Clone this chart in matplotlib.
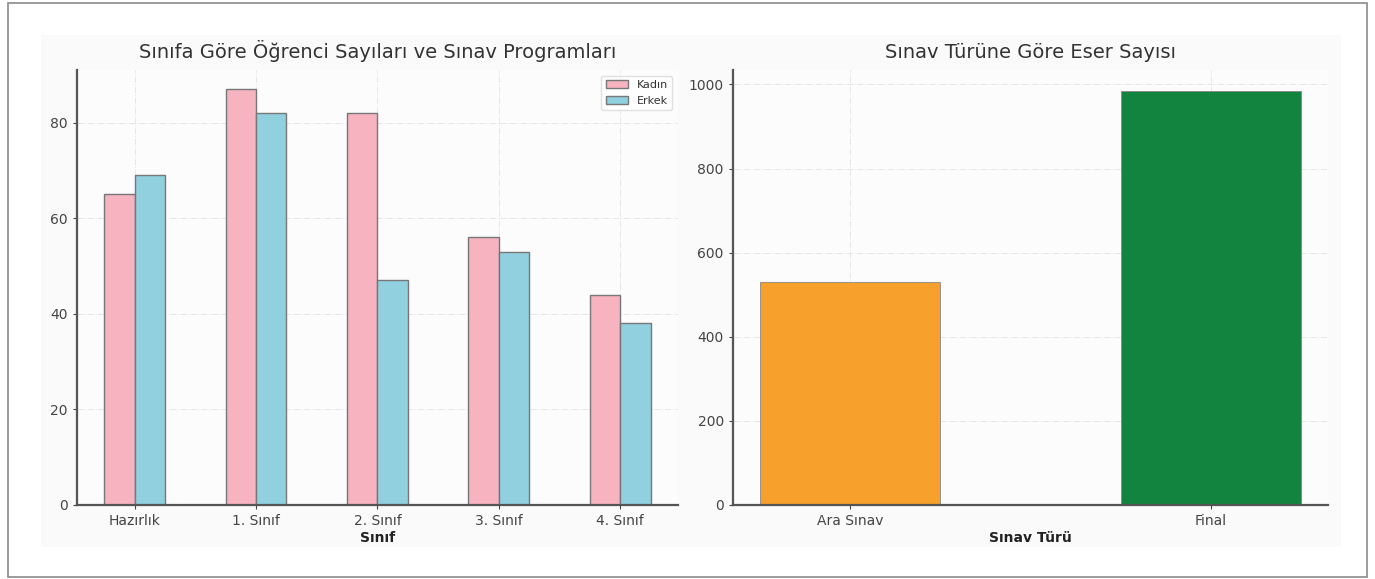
import numpy as np
import matplotlib.pyplot as plt
from matplotlib.patches import Rectangle

# veriler
siniflar = ['Hazırlık', '1. Sınıf', '2. Sınıf', '3. Sınıf', '4. Sınıf']
kadin = [65, 87, 82, 56, 44]
erkek = [69, 82, 47, 53, 38]

sinav_turleri = ['Ara Sınav', 'Final']
eser_sayisi = [530, 985]

plt.rcParams['font.family'] = ['DejaVu Sans']
plt.rcParams['text.color'] = '#333333'
plt.rcParams['axes.labelcolor'] = '#222222'
plt.rcParams['xtick.color'] = '#444444'
plt.rcParams['ytick.color'] = '#444444'

fig = plt.figure(figsize=(13.75, 5.79), dpi=100)

# dış çerçeve ve iç arka plan
fig.patches.append(Rectangle((0.006, 0.004), 0.988, 0.99, transform=fig.transFigure,
                             fill=False, edgecolor='#8a8a8a', linewidth=1.2))
fig.patches.append(Rectangle((0.03, 0.055), 0.945, 0.885, transform=fig.transFigure,
                             facecolor='#fafafa', edgecolor='none', zorder=-1))

ax1 = fig.add_axes([0.056, 0.128, 0.437, 0.751])
ax2 = fig.add_axes([0.533, 0.128, 0.433, 0.751])


def style_axes(ax):
    ax.set_facecolor('#fcfcfc')
    for side in ['top', 'right']:
        ax.spines[side].set_visible(False)
    for side in ['left', 'bottom']:
        ax.spines[side].set_color('#555555')
        ax.spines[side].set_linewidth(1.6)
    ax.grid(True, linestyle='-.', color='#e6e6e6', linewidth=0.7)
    ax.set_axisbelow(True)
    ax.tick_params(labelsize=10, length=3)


# sol grafik: sınıfa göre öğrenci sayıları
x = np.arange(len(siniflar))
width = 0.25
ax1.bar(x - width / 2, kadin, width, label='Kadın', color='#f7b3c0',
        edgecolor='#777777', linewidth=1.0)
ax1.bar(x + width / 2, erkek, width, label='Erkek', color='#90d0df',
        edgecolor='#777777', linewidth=1.0)
ax1.set_xticks(x)
ax1.set_xticklabels(siniflar)
ax1.set_yticks([0, 20, 40, 60, 80])
ax1.set_ylim(0, 91)
ax1.set_title('Sınıfa Göre Öğrenci Sayıları ve Sınav Programları', fontsize=14,
              color='#333333', pad=9)
ax1.set_xlabel('Sınıf', fontsize=10, fontweight='bold', labelpad=2)
style_axes(ax1)
ax1.legend(loc='upper right', fontsize=8, frameon=True, framealpha=0.9, edgecolor='#dddddd')

# sağ grafik: sınav türüne göre eser sayısı
ax2.bar(sinav_turleri, eser_sayisi, width=0.5, color=['#f7a02b', '#138440'],
        edgecolor='#888888', linewidth=0.6)
ax2.set_yticks([0, 200, 400, 600, 800, 1000])
ax2.set_title('Sınav Türüne Göre Eser Sayısı', fontsize=14, color='#333333', pad=9)
ax2.set_xlabel('Sınav Türü', fontsize=10, fontweight='bold', labelpad=2)
style_axes(ax2)

fig.savefig('out.png', dpi=100)
